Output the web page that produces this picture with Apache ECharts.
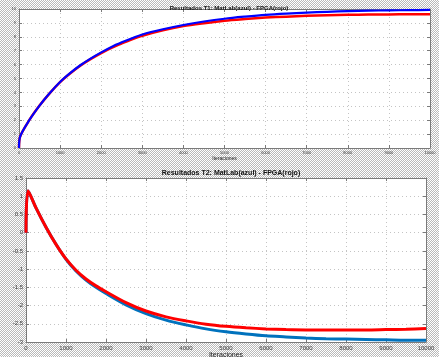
<!DOCTYPE html>
<html>
<head>
<meta charset="utf-8">
<script src="https://cdn.jsdelivr.net/npm/echarts@6/dist/echarts.min.js"></script>
<style>
html,body{margin:0;padding:0;}
#c{width:439px;height:357px;background:repeating-conic-gradient(#b9b9b9 0 25%, #ffffff 0 50%) 0 0/2px 2px;}
</style>
</head>
<body>
<div id="c"></div>
<script>
// ---- Data ----
const titleT1 = 'Resultados T1: MatLab(azul) - FPGA(rojo)';
const titleT2 = 'Resultados T2: MatLab(azul) - FPGA(rojo)';
const xLabel = 'Iteraciones';
const yLabelT1 = 'Valores estimados variable T1';
const yLabelT2 = 'Valores estimados variable T2';

const itT1 = [0, 25, 250, 500, 750, 1000, 1250, 1500, 1750, 2000, 2250, 2500, 2750, 3000, 3500, 4000, 4500, 5000, 5500, 6000, 6500, 7000, 7500, 8000, 8500, 9000, 9500, 10000];
const t1Matlab = [0, 0.8, 2.0, 3.05, 3.95, 4.75, 5.4, 5.97, 6.45, 6.88, 7.27, 7.6, 7.9, 8.17, 8.54, 8.85, 9.1, 9.3, 9.45, 9.58, 9.67, 9.74, 9.8, 9.85, 9.88, 9.9, 9.92, 9.93];
const t1Fpga   = [0, 0.8, 2.0, 3.05, 3.95, 4.74, 5.38, 5.94, 6.41, 6.83, 7.2, 7.52, 7.82, 8.08, 8.47, 8.77, 8.98, 9.16, 9.28, 9.38, 9.45, 9.51, 9.55, 9.58, 9.6, 9.61, 9.62, 9.62];

const itT2 = [0, 50, 250, 500, 750, 1000, 1250, 1500, 1750, 2000, 2500, 3000, 3500, 4000, 4500, 5000, 5500, 6000, 6500, 7000, 7500, 8000, 8500, 9000, 9500, 10000];
const t2Matlab = [0, 1.15, 0.68, 0.15, -0.32, -0.73, -1.05, -1.3, -1.5, -1.67, -1.98, -2.22, -2.4, -2.53, -2.64, -2.72, -2.78, -2.83, -2.86, -2.89, -2.91, -2.92, -2.93, -2.94, -2.95, -2.95];
const t2Fpga   = [0, 1.15, 0.68, 0.15, -0.32, -0.72, -1.03, -1.27, -1.46, -1.62, -1.92, -2.15, -2.31, -2.42, -2.51, -2.57, -2.61, -2.64, -2.66, -2.67, -2.67, -2.67, -2.67, -2.66, -2.65, -2.63];

const xRange = {min: 0, max: 10000, interval: 1000};
const yRangeT1 = {min: 0, max: 10, interval: 1};
const yRangeT2 = {min: -3, max: 1.5, interval: 0.5};

function pairs(xs, ys){ return xs.map((x,i)=>[x, ys[i]]); }

const axisGray = '#7a7a7a';
const labelColor = '#3a3a3a';
const fmt = v => String(v);

function mainX(grid, fs, gap){
  return {type:'value', gridIndex:grid, position:'bottom', min:xRange.min, max:xRange.max, interval:xRange.interval,
    name:xLabel, nameLocation:'middle', nameGap:gap, nameTextStyle:{fontSize:fs+1, color:'#222', fontFamily:'Liberation Sans'},
    axisLine:{show:true, onZero:false, lineStyle:{color:axisGray, width:1}},
    axisTick:{show:true, inside:true, length:3, lineStyle:{color:axisGray}},
    axisLabel:{fontSize:fs, color:labelColor, margin:3, fontFamily:'Liberation Sans', formatter:fmt},
    splitLine:{show:true, lineStyle:{type:[1,3], color:'#c4c4c4', width:1}}};
}
function mirrorX(grid){
  return {type:'value', gridIndex:grid, position:'top', min:xRange.min, max:xRange.max, interval:xRange.interval,
    axisLine:{show:true, onZero:false, lineStyle:{color:axisGray}}, axisTick:{show:true, inside:true, length:3, lineStyle:{color:axisGray}},
    axisLabel:{show:false}, splitLine:{show:false}};
}
function mainY(grid, r, name, fs, gap){
  return {type:'value', gridIndex:grid, position:'left', min:r.min, max:r.max, interval:r.interval,
    name:name, nameLocation:'middle', nameGap:gap, nameTextStyle:{fontSize:fs+1, color:'#222', fontFamily:'Liberation Sans'},
    axisLine:{show:true, onZero:false, lineStyle:{color:axisGray, width:1}},
    axisTick:{show:true, inside:true, length:3, lineStyle:{color:axisGray}},
    axisLabel:{fontSize:fs, color:labelColor, margin:3, fontFamily:'Liberation Sans', formatter:fmt},
    splitLine:{show:true, lineStyle:{type:[1,3], color:'#c4c4c4', width:1}}};
}
function mirrorY(grid, r){
  return {type:'value', gridIndex:grid, position:'right', min:r.min, max:r.max, interval:r.interval,
    axisLine:{show:true, onZero:false, lineStyle:{color:axisGray}}, axisTick:{show:true, inside:true, length:3, lineStyle:{color:axisGray}},
    axisLabel:{show:false}, splitLine:{show:false}};
}

const chart = echarts.init(document.getElementById('c'), null, {renderer:'canvas'});
chart.setOption({
  backgroundColor:'transparent',
  animation:false,
  title:[
    {text:titleT1, left:224, top:0, textAlign:'center', textStyle:{fontSize:6, fontWeight:'bold', color:'#111', fontFamily:'Liberation Sans'}},
    {text:titleT2, left:226, top:165, textAlign:'center', textStyle:{fontSize:7, fontWeight:'bold', color:'#111', fontFamily:'Liberation Sans'}}
  ],
  grid:[
    {left:19, top:9, width:411, height:139, show:true, backgroundColor:'#ffffff', borderWidth:0, containLabel:false, outerBoundsMode:'none'},
    {left:26, top:178, width:400, height:164, show:true, backgroundColor:'#ffffff', borderWidth:0, containLabel:false, outerBoundsMode:'none'}
  ],
  xAxis:[ mainX(0, 4, 7), mainX(1, 6, 9), mirrorX(0), mirrorX(1) ],
  yAxis:[ mainY(0, yRangeT1, yLabelT1, 4, 10), mainY(1, yRangeT2, yLabelT2, 6, 15), mirrorY(0, yRangeT1), mirrorY(1, yRangeT2) ],
  series:[
    {type:'line', xAxisIndex:0, yAxisIndex:0, data:pairs(itT1, t1Fpga), smooth:0.3, showSymbol:false, lineStyle:{color:'#ff0000', width:2.5}},
    {type:'line', xAxisIndex:0, yAxisIndex:0, data:pairs(itT1, t1Matlab), smooth:0.3, showSymbol:false, lineStyle:{color:'#0000ff', width:2.2}},
    {type:'line', xAxisIndex:1, yAxisIndex:1, data:pairs(itT2, t2Matlab), smooth:0.3, showSymbol:false, lineStyle:{color:'#0072bd', width:3}},
    {type:'line', xAxisIndex:1, yAxisIndex:1, data:pairs(itT2, t2Fpga), smooth:0.3, showSymbol:false, lineStyle:{color:'#ff0000', width:3}}
  ]
});
</script>
</body>
</html>
